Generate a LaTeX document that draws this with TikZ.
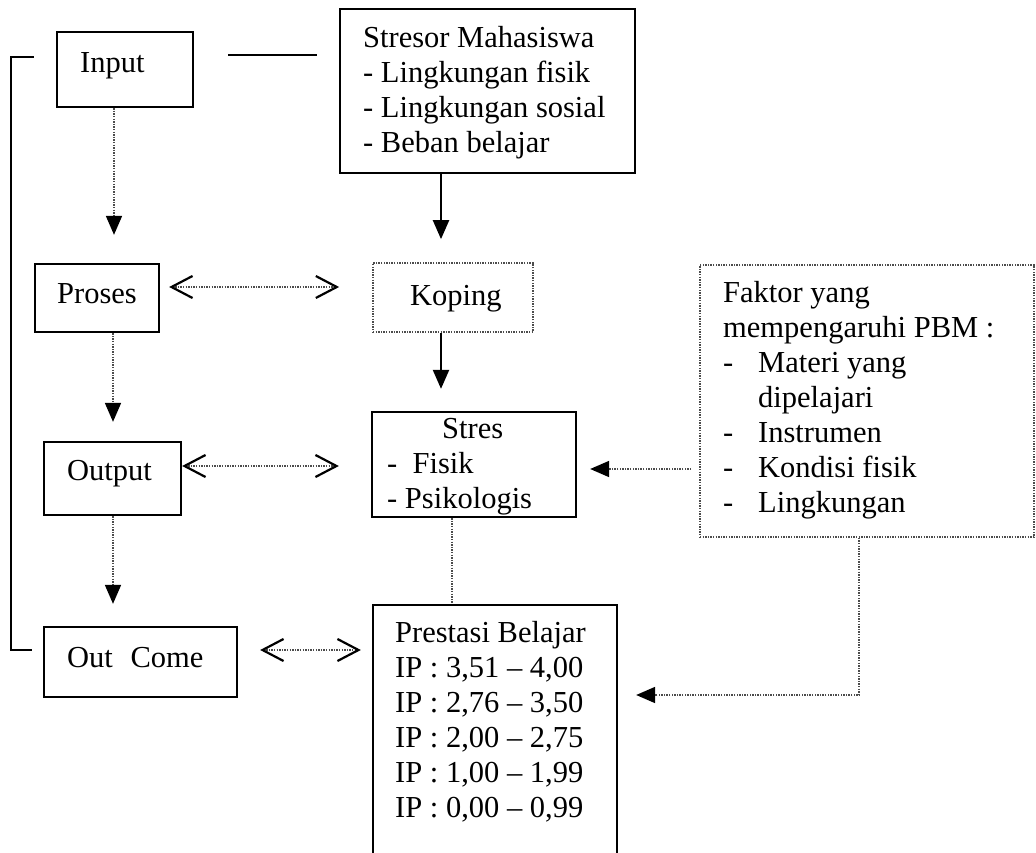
\documentclass[tikz,border=0pt]{standalone}
\usepackage{fontspec}
\setmainfont{Liberation Serif}
\usetikzlibrary{arrows.meta,fit}
\begin{document}
\begin{tikzpicture}[x=1pt,y=-1pt,
  box/.style={draw, line width=2.3pt, inner sep=0pt},
  dbox/.style={draw=black!70, line width=1.7pt, dash pattern=on 1.4pt off 1.2pt, inner sep=0pt},
  txt/.style={inner sep=0pt, anchor=base west, font=\fontsize{30.5}{35}\selectfont},
  solidline/.style={line width=2.3pt},
  dotline/.style={draw=black!70, line width=1.7pt, dash pattern=on 1.4pt off 1.2pt},
  fillhead/.style={-{Triangle[length=19pt,width=16pt,color=black]}},
  vv/.style={{Straight Barb[length=21pt,width=22pt,line width=2.2pt,color=black]}-{Straight Barb[length=21pt,width=22pt,line width=2.2pt,color=black]}}
]
\useasboundingbox (0,0) rectangle (1036,853);
\clip (0,0) rectangle (1036,853);

% boxes
\node[box, fit={(57,32) (193,107)}] (input) {};
\node[box, fit={(340,9) (635,173)}] (stresor) {};
\node[box, fit={(35,264) (159,332)}] (proses) {};
\node[dbox, fit={(373,263) (533,332)}] (koping) {};
\node[box, fit={(44,442) (181,515)}] (output) {};
\node[box, fit={(372,412) (576,517)}] (stres) {};
\node[box, fit={(44,627) (237,697)}] (outcome) {};
\node[box, fit={(373,605) (617,880)}] (prestasi) {};
\node[dbox, fit={(700,265) (1034,537)}] (faktor) {};

% texts
\node[txt] (inputT) at (80,73) {Input};
\node[txt] (prosesT) at (57,303) {Proses};
\node[txt] (outputT) at (67,480) {Output};
\node[txt] (outcomeT) at (67,667) {Out\hspace{10pt} Come};
\node[txt] (kopingT) at (410,305) {Koping};
\node[txt] (stresorT) at (363,48) {\begin{tabular}[t]{@{}l@{}}Stresor Mahasiswa\\- Lingkungan fisik\\- Lingkungan sosial\\- Beban belajar\end{tabular}};
\node[txt] (stresT) at (387,438) {\begin{tabular}[t]{@{}l@{}}\hspace*{55pt}Stres\\- \ Fisik\\- Psikologis\end{tabular}};
\node[txt] (prestasiT) at (395,642) {\begin{tabular}[t]{@{}l@{}}Prestasi Belajar\\IP : 3,51 -- 4,00\\IP : 2,76 -- 3,50\\IP : 2,00 -- 2,75\\IP : 1,00 -- 1,99\\IP : 0,00 -- 0,99\end{tabular}};
\node[txt] (faktorT) at (723,302) {\begin{tabular}[t]{@{}l@{}}Faktor yang\\mempengaruhi PBM :\\\makebox[35pt][l]{-}Materi yang\\\hspace*{35pt}dipelajari\\\makebox[35pt][l]{-}Instrumen\\\makebox[35pt][l]{-}Kondisi fisik\\\makebox[35pt][l]{-}Lingkungan\end{tabular}};

% left bracket
\draw[solidline] ([xshift=-22pt,yshift=12.5pt]input.west) -- ([xshift=-45pt,yshift=12.5pt]input.west)
  |- ([xshift=-11pt,yshift=12pt]outcome.west);

% input -- stresor
\draw[solidline, shorten <=34pt, shorten >=22pt]
  ([yshift=14.5pt]input.east) -- ([yshift=14.5pt]input.east -| stresor.west);

% vertical arrows
\draw[dotline, fillhead, shorten >=28pt]
  ([xshift=-11pt]input.south) -- ([xshift=-11pt]input.south |- proses.north);
\draw[dotline, fillhead, shorten >=19pt]
  ([xshift=16pt]proses.south) -- ([xshift=16pt]proses.south |- output.north);
\draw[dotline, fillhead, shorten >=22pt]
  ([xshift=0.5pt]output.south) -- ([xshift=0.5pt]output.south |- outcome.north);
\draw[solidline, fillhead, shorten >=23pt]
  ([xshift=-46.5pt]stresor.south) -- ([xshift=-46.5pt]stresor.south |- koping.north);
\draw[solidline, fillhead, shorten >=22pt]
  ([xshift=-12pt]koping.south) -- ([xshift=-12pt]koping.south |- stres.north);
\draw[dotline]
  ([xshift=-22pt]stres.south) -- ([xshift=-22pt]stres.south |- prestasi.north);

% double arrows
\draw[dotline, vv, shorten <=9pt, shorten >=33pt]
  ([yshift=11pt]proses.east) -- ([yshift=11pt]proses.east -| koping.west);
\draw[dotline, vv, shorten >=32pt]
  ([yshift=12.5pt]output.east) -- ([yshift=12.5pt]output.east -| stres.west);
\draw[dotline, vv, shorten <=22pt, shorten >=11pt]
  ([yshift=12pt]outcome.east) -- ([yshift=12pt]outcome.east -| prestasi.west);

% faktor arrows
\draw[dotline, fillhead, shorten <=8pt, shorten >=13pt]
  ([yshift=-68pt]faktor.west) -- ([yshift=-68pt]faktor.west -| stres.east);
\draw[dotline, fillhead, shorten >=18pt]
  ([xshift=-8pt]faktor.south) |- ([yshift=47.5pt]prestasi.east);
\end{tikzpicture}
\end{document}
